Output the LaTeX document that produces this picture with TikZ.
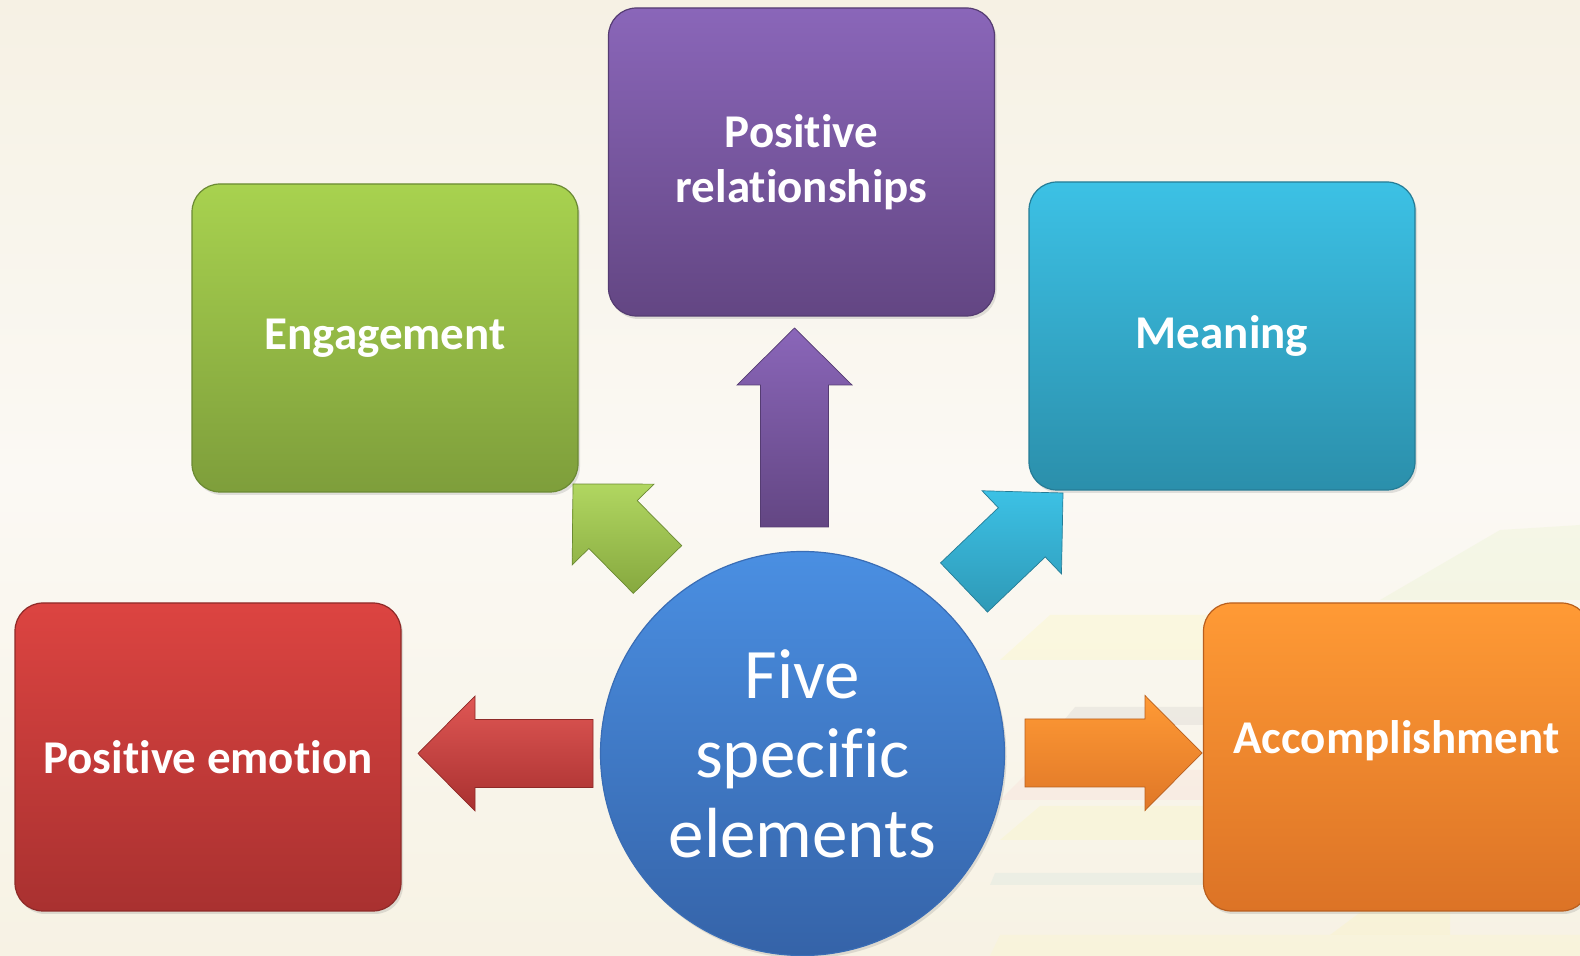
\documentclass[tikz,border=0pt]{standalone}
\usepackage{fontspec}
\setmainfont{Carlito}[Ligatures={NoCommon}]
\usetikzlibrary{calc,shadows}

% palette
\definecolor{bgtop}{HTML}{F6F1E4}
\definecolor{bgmid}{HTML}{FBF9F4}
\definecolor{bgbot}{HTML}{F7F2E4}

\definecolor{redtop}{HTML}{DC4441}\definecolor{redbot}{HTML}{A93130}\definecolor{redline}{HTML}{8E2A28}
\definecolor{grntop}{HTML}{A8D24F}\definecolor{grnbot}{HTML}{7E9E3B}\definecolor{grnline}{HTML}{6B8A33}
\definecolor{purtop}{HTML}{8A66B9}\definecolor{purbot}{HTML}{634683}\definecolor{purline}{HTML}{553C72}
\definecolor{cyntop}{HTML}{3CC1E5}\definecolor{cynbot}{HTML}{2B8FAB}\definecolor{cynline}{HTML}{257C96}
\definecolor{orgtop}{HTML}{FF9A35}\definecolor{orgbot}{HTML}{DC7326}\definecolor{orgline}{HTML}{B95F1E}
\definecolor{blutop}{HTML}{4A8FE2}\definecolor{blubot}{HTML}{3563A8}\definecolor{bluline}{HTML}{3A6DB5}

\tikzset{
  card/.style={rounded corners=28pt, minimum width=386pt, minimum height=308pt,
    line width=1.2pt, text=white, align=center, inner sep=0pt,
    font=\bfseries\fontsize{47}{54.5}\selectfont,
    drop shadow={opacity=0.22, shadow xshift=2pt, shadow yshift=-3pt}},
  hub/.style={circle, minimum size=404pt, inner sep=0pt, line width=1.2pt,
    draw=bluline, top color=blutop, bottom color=blubot, text=white, align=center,
    font=\fontsize{71}{79.5}\selectfont,
    drop shadow={opacity=0.22, shadow xshift=2pt, shadow yshift=-3pt}},
  barrow/.style={line width=0.7pt, line join=miter},
  band/.style={fill opacity=0.14, draw=none}
}

% block arrow from tail #1 to tip #2, styled with #3
\newcommand\blockarrow[3]{%
  \coordinate (nk) at ($(#2)!57pt!(#1)$);
  \path[barrow,#3]
    ($(#1)!34pt!90:(#2)$) -- ($(nk)!34pt!90:(#2)$) -- ($(nk)!57.5pt!90:(#2)$)
    -- (#2)
    -- ($(nk)!57.5pt!-90:(#2)$) -- ($(nk)!34pt!-90:(#2)$) -- ($(#1)!34pt!-90:(#2)$)
    -- cycle;
}

\begin{document}
\begin{tikzpicture}[x=1pt,y=1pt]
\useasboundingbox (0,0) rectangle (1580,956);

% paper background
\shade[top color=bgtop, bottom color=bgbot, middle color=bgmid] (0,0) rectangle (1580,956);

% faint stacked sheets in the lower right
\fill[band, fill=yellow!60!green!40] (1380,356) -- (1500,426) -- (1580,431) -- (1580,356) -- cycle;
\fill[band, fill=yellow!50] (1000,296) -- (1050,341) -- (1210,341) -- (1210,296) -- cycle;
\fill[band, fill=black!35] (1060,231) -- (1075,249) -- (1210,249) -- (1210,231) -- cycle;
\fill[band, fill=red!25] (1000,156) -- (1030,186) -- (1210,186) -- (1210,156) -- cycle;
\fill[band, fill=yellow!45] (1000,116) -- (1040,150) -- (1210,150) -- (1210,116) -- cycle;
\fill[band, fill=teal!35] (990,71) -- (995,83) -- (1210,83) -- (1210,71) -- cycle;
\fill[band, fill=yellow!45] (1330,21) -- (1370,51) -- (1450,51) -- (1450,21) -- cycle;
\fill[band, fill=yellow!35] (990,0) -- (1000,21) -- (1580,21) -- (1580,0) -- cycle;

% the five elements
\node[card, draw=redline, top color=redtop, bottom color=redbot] (emotion) at (208,199) {Positive emotion};
\node[card, draw=grnline, top color=grntop, bottom color=grnbot] (engage) at (385,618) {Engagement};
\node[card, draw=purline, top color=purtop, bottom color=purbot] (relate) at (801.5,794) {Positive\\relationships};
\node[card, draw=cynline, top color=cyntop, bottom color=cynbot] (meaning) at (1222,620) {Meaning};
\node[card, draw=orgline, top color=orgtop, bottom color=orgbot, text depth=39pt] (accomp) at (1396.5,199) {Accomplishment};

% centre
\node[hub] (hub) at (802.5,202.5) {Five\\specific\\elements};

% arrow ends
\coordinate (pT) at (794.5,429);  \coordinate (pH) at (794.5,628);
\coordinate (rT) at (593,202.5);  \coordinate (rH) at (418,202.5);
\coordinate (oT) at (1025,203);   \coordinate (oH) at (1202,203);
\coordinate (gT) at (657.5,386.5);\coordinate (gH) at (573,472);
\coordinate (cT) at (964,368.5);  \coordinate (cH) at (1063,463);

\blockarrow{pT}{pH}{draw=purline, top color=purtop, bottom color=purbot}
\blockarrow{rT}{rH}{draw=redline, top color=redtop!90!white, bottom color=redbot}
\blockarrow{oT}{oH}{draw=orgline, top color=orgtop, bottom color=orgbot!90!orgtop}
\blockarrow{gT}{gH}{draw=grnline, top color=grntop!90!white, bottom color=grnbot!80!grntop}
\blockarrow{cT}{cH}{draw=cynline, top color=cyntop, bottom color=cynbot!80!cyntop}
\end{tikzpicture}
\end{document}
